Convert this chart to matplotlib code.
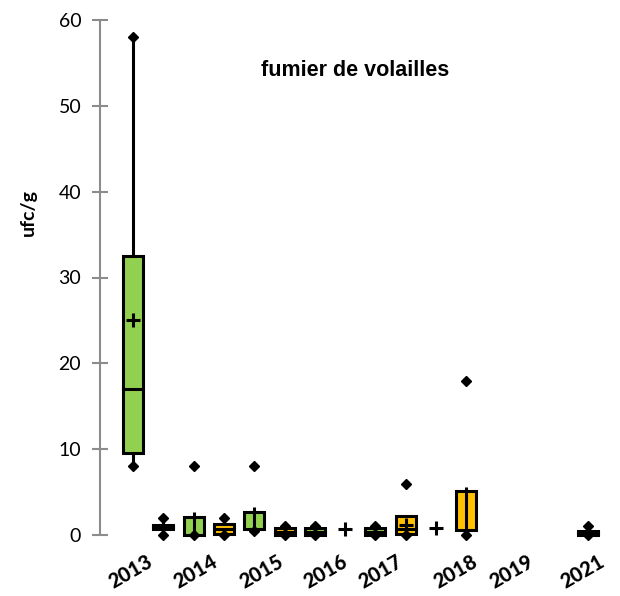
import numpy as np
import matplotlib
matplotlib.use("Agg")
import matplotlib.pyplot as plt
from matplotlib.patches import Rectangle

nan = np.nan

years = ["2013", "2014", "2015", "2016", "2017", "2018", "2019", "2021"]

# first series (green) per year
green_min = [8.0, 0.0, 0.5, 0.0, 0.0, nan, nan, nan]
green_wlo = [8.0, 0.0, 0.5, 0.0, 0.0, nan, nan, nan]
green_q1 = [9.5, 0.0, 0.7, 0.0, 0.0, nan, nan, nan]
green_med = [17.0, nan, nan, 0.4, 0.4, nan, nan, nan]
green_q3 = [32.5, 2.1, 2.7, 0.8, 0.8, nan, nan, nan]
green_whi = [58.0, 2.7, 3.3, 0.8, 0.8, nan, nan, nan]
green_max = [58.0, 8.0, 8.0, 1.0, 1.0, nan, nan, nan]
green_mean = [25.0, nan, nan, nan, nan, 0.8, nan, nan]

# second series (orange) per year
orange_min = [0.0, 0.0, 0.0, nan, 0.0, 0.0, nan, 0.0]
orange_wlo = [0.0, 0.0, 0.0, nan, 0.0, 0.6, nan, 0.0]
orange_q1 = [0.7, 0.1, 0.0, nan, 0.1, 0.6, nan, 0.0]
orange_med = [0.95, 0.65, 0.4, nan, 0.75, nan, nan, 0.2]
orange_q3 = [1.2, 1.25, 0.85, nan, 2.25, 5.15, nan, 0.45]
orange_whi = [2.0, 2.0, 0.85, nan, 2.35, 5.6, nan, 1.1]
orange_max = [2.0, 2.0, 1.0, nan, 6.0, 18.0, nan, 1.1]
orange_mean = [nan, nan, nan, 0.7, 1.2, nan, nan, nan]

# boxes whose whisker line is drawn across the box
whisker_through = {("green", 1), ("green", 2), ("orange", 5)}
# year label anchor shift relative to the pair centre
label_shift = [-0.07, 0.07, 0.25, 0.36, 0.18, 0.65, 0.5, 0.85]

GREEN = "#92D050"
ORANGE = "#FFC000"
BOX_W = 0.66

fig = plt.figure(figsize=(6.2, 5.96), dpi=100)
ax = fig.add_axes([100 / 620, 61 / 596, 510 / 620, 515 / 596])


def draw_series(name, color, offset, mn, wlo, q1, med, q3, whi, mx, mean):
    for i in range(len(years)):
        x = 2 * i + offset
        if not np.isnan(q1[i]):
            through = (name, i) in whisker_through
            # whiskers
            if through:
                ax.plot([x, x], [wlo[i], whi[i]], color="black", lw=2.2,
                        zorder=4, solid_capstyle="butt", clip_on=False)
            else:
                ax.plot([x, x], [q3[i], whi[i]], color="black", lw=2.2,
                        zorder=2, solid_capstyle="butt", clip_on=False)
                ax.plot([x, x], [wlo[i], q1[i]], color="black", lw=2.2,
                        zorder=2, solid_capstyle="butt", clip_on=False)
            ax.add_patch(Rectangle((x - BOX_W / 2, q1[i]), BOX_W, q3[i] - q1[i],
                                   facecolor=color, edgecolor="black", lw=2.2,
                                   zorder=3, clip_on=False))
            if not np.isnan(med[i]):
                ax.plot([x - BOX_W / 2, x + BOX_W / 2], [med[i], med[i]],
                        color="black", lw=2.2, zorder=4, clip_on=False)
        for v in (mn[i], mx[i]):
            if not np.isnan(v):
                ax.plot(x, v, marker="D", ms=5, color="black", zorder=5,
                        clip_on=False)
        if not np.isnan(mean[i]):
            ax.plot(x, mean[i], marker="+", ms=10, mew=2.2, color="black",
                    zorder=6, clip_on=False)


draw_series("green", GREEN, 0, green_min, green_wlo, green_q1, green_med,
            green_q3, green_whi, green_max, green_mean)
draw_series("orange", ORANGE, 1, orange_min, orange_wlo, orange_q1, orange_med,
            orange_q3, orange_whi, orange_max, orange_mean)

ax.set_xlim(-1.09, 15.74)
ax.set_ylim(0, 60)
ax.set_yticks(np.arange(0, 61, 10))
ax.tick_params(axis="y", direction="inout", length=11, width=1.5,
               color="#8c8c8c", pad=8, labelsize=14)
for lab in ax.get_yticklabels():
    lab.set_fontfamily("Lato")

label_pos = [2 * i + 0.5 + s for i, s in enumerate(label_shift)]
ax.set_xticks(label_pos)
ax.set_xticklabels(years, rotation=30, ha="right", rotation_mode="anchor",
                   fontsize=14.5, fontweight=900, fontfamily="Lato")
ax.tick_params(axis="x", length=0, pad=12)

for s in ("top", "right", "bottom"):
    ax.spines[s].set_visible(False)
ax.spines["left"].set_color("#8c8c8c")
ax.spines["left"].set_linewidth(1.5)

fig.text(28 / 620, 1 - 212 / 596, "ufc/g", rotation=90, ha="center",
         va="center", fontsize=14, fontweight="bold", fontfamily="Lato")
fig.text(355 / 620, 1 - 70 / 596, "fumier de volailles", ha="center",
         va="center", fontsize=15.5, fontweight="bold",
         fontfamily="Liberation Sans")

fig.savefig("out.png", dpi=100)
